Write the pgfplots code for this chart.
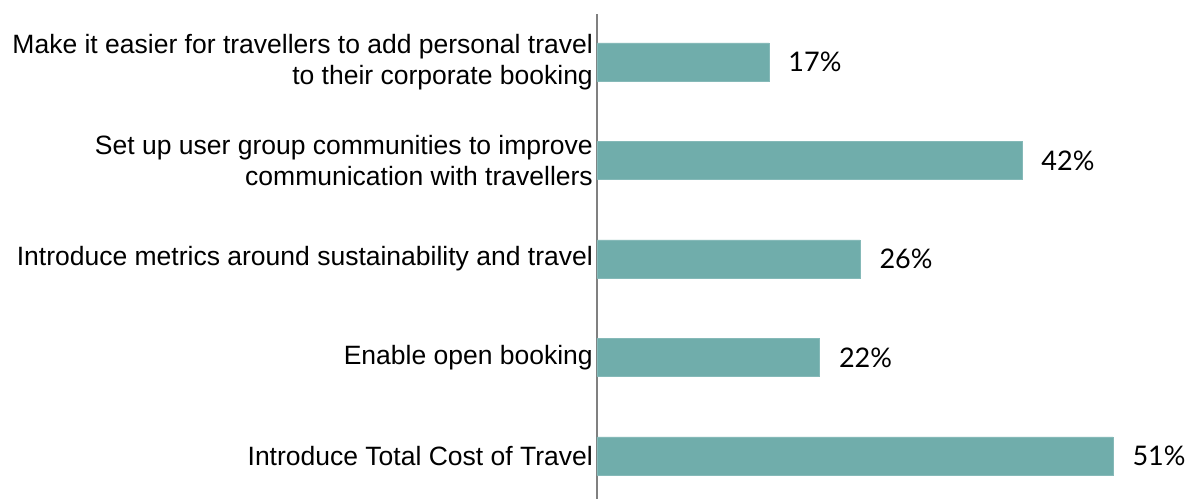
\documentclass[border=0pt]{standalone}
\usepackage{pgfplots}
\pgfplotsset{compat=1.18}
\usepackage{fontspec}
\setmainfont{Liberation Sans}
\newfontfamily\valfont{Lato}
\definecolor{barteal}{RGB}{112,173,171}
\definecolor{axgray}{RGB}{128,128,128}
\begin{document}
\begin{tikzpicture}
\begin{axis}[
  anchor=south west, at={(0,0)},
  x=10.12bp, y=98.5bp,
  xmin=0, xmax=59.19,
  ymin=-0.437, ymax=4.487,
  xbar, bar width=38bp,
  axis x line=none,
  axis y line=left,
  y axis line style={-, draw=axgray, line width=2bp},
  ytick={0,1,2,3,4},
  yticklabels={Introduce Total Cost of Travel,Enable open booking,Introduce metrics around sustainability and travel,{Set up user group communities to improve\\communication with travellers},{Make it easier for travellers to add personal travel\\to their corporate booking}},
  yticklabel style={align=right, font=\fontsize{26.5bp}{30.5bp}\selectfont, inner sep=0pt, xshift=-4bp},
  major tick length=0pt,
  clip=false,
  point meta=x,
  /pgf/number format/assume math mode=true,
  nodes near coords={\pgfmathprintnumber{\pgfplotspointmeta}\%},
  nodes near coords style={anchor=west, inner sep=0pt, xshift=19bp, font=\valfont\fontsize{27bp}{30bp}\selectfont, text=black},
]
\addplot[fill=barteal, draw=barteal!85!white, line width=0.8bp] coordinates {(51,0) (22,1) (26,2) (42,3) (17,4)};
\end{axis}
\pgfresetboundingbox
\path[use as bounding box] (-597bp,0) rectangle (599bp,499bp);
\end{tikzpicture}
\end{document}
